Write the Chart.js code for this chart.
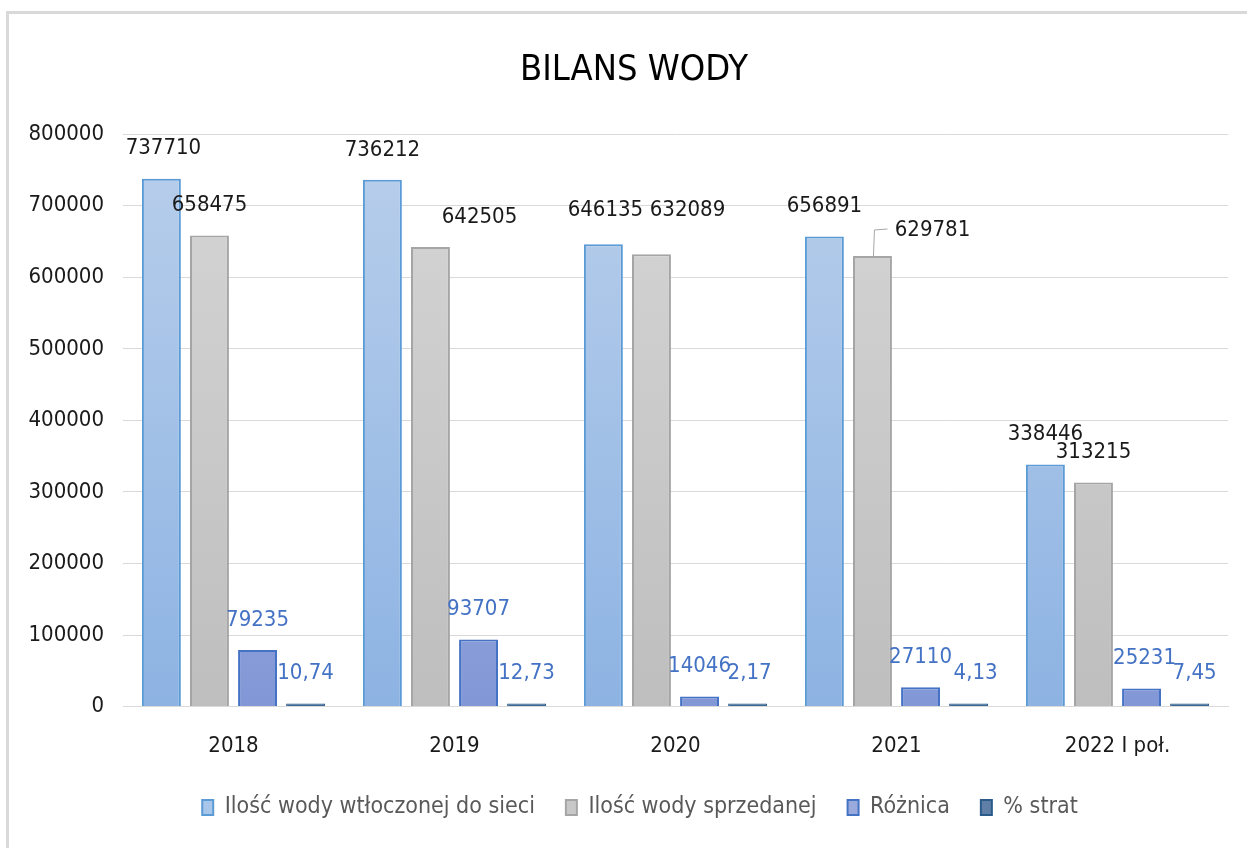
<!DOCTYPE html>
<html>
<head>
<meta charset="utf-8">
<script src="https://cdn.jsdelivr.net/npm/chart.js@4/dist/chart.umd.min.js"></script>
<style>
  html, body { margin: 0; padding: 0; background: #ffffff; }
  #wrap { position: relative; width: 1247px; height: 848px; overflow: hidden; }
  #frameTop { position: absolute; left: 6px; top: 11px; width: 1260px; height: 3px; background: #d9d9d9; }
  #frameLeft { position: absolute; left: 6px; top: 11px; width: 3px; height: 860px; background: #d9d9d9; }
  canvas { position: absolute; left: 0; top: 0; }
</style>
</head>
<body>
<div id="wrap">
  <canvas id="c" width="1247" height="848"></canvas>
  <div id="frameTop"></div>
  <div id="frameLeft"></div>
</div>
<script>
const categories = ['2018', '2019', '2020', '2021', '2022 I poł.'];
const wtloczonej = [737710, 736212, 646135, 656891, 338446];
const sprzedanej = [658475, 642505, 632089, 629781, 313215];
const roznica = [79235, 93707, 14046, 27110, 25231];
const procentStrat = [10.74, 12.73, 2.17, 4.13, 7.45];
const seriesNames = ['Ilość wody wtłoczonej do sieci', 'Ilość wody sprzedanej', 'Różnica', '% strat'];
const yTicks = [0, 100000, 200000, 300000, 400000, 500000, 600000, 700000, 800000];

const FONT = "'Liberation Sans Narrow', 'DejaVu Sans Condensed', 'Liberation Sans', sans-serif";

// label offsets (dx, dy) relative to default position, per dataset/category
const labelOffsets = [
  [[2,0],[0,0],[2,-4],[0,0],[0,0]],
  [[0,0],[49,0],[36,-14],[60,4],[0,0]],
  [[0,0],[0,0],[0,0],[0,0],[3,0]],
  [[0,0],[0,0],[2,0],[7,0],[5,0]]
];
const leaderLines = [[], [3], [], []];

function gradFill(top, bottom) {
  return function(c) {
    const area = c.chart.chartArea;
    if (!area) return bottom;
    const g = c.chart.ctx.createLinearGradient(0, area.top, 0, area.bottom);
    g.addColorStop(0, top);
    g.addColorStop(1, bottom);
    return g;
  };
}

// horizontally re-centre title and legend boxes on the frame (not on the plot)
const boxShiftPlugin = {
  id: 'boxShift',
  afterLayout(chart) {
    if (chart.titleBlock) { chart.titleBlock.left += 20; chart.titleBlock.right += 20; }
    if (chart.legend) { chart.legend.left += 26; chart.legend.right += 26; }
  }
};

const labelPlugin = {
  id: 'barLabels',
  afterDatasetsDraw(chart) {
    const ctx = chart.ctx;
    ctx.save();
    ctx.font = '22px ' + FONT;
    ctx.textAlign = 'center';
    ctx.textBaseline = 'middle';
    chart.data.datasets.forEach((ds, di) => {
      const meta = chart.getDatasetMeta(di);
      ctx.fillStyle = di < 2 ? '#1a1a1a' : '#4472c4';
      meta.data.forEach((bar, i) => {
        const v = ds.data[i];
        const txt = di === 3 ? v.toFixed(2).replace('.', ',') : String(v);
        const off = labelOffsets[di][i];
        const barTop = Math.min(bar.y, bar.base - 3);
        const x = bar.x + off[0];
        const y = barTop - 30 + off[1];
        if (leaderLines[di].indexOf(i) >= 0) {
          ctx.save();
          ctx.strokeStyle = '#a6a6a6';
          ctx.lineWidth = 1;
          ctx.beginPath();
          ctx.moveTo(bar.x + 1, barTop);
          ctx.lineTo(bar.x + 2, y);
          ctx.lineTo(bar.x + 15, y - 1);
          ctx.stroke();
          ctx.restore();
        }
        ctx.fillText(txt, x, y);
      });
    });
    ctx.restore();
  }
};

const chart = new Chart(document.getElementById('c'), {
  type: 'bar',
  data: {
    labels: categories,
    datasets: [
      { label: seriesNames[0], data: wtloczonej, backgroundColor: gradFill('#b9cfeb', '#8db3e3'), borderColor: '#5b9bd5', borderWidth: 2 },
      { label: seriesNames[1], data: sprzedanej, backgroundColor: gradFill('#d6d6d6', '#bebebe'), borderColor: '#a5a5a5', borderWidth: 2 },
      { label: seriesNames[2], data: roznica, backgroundColor: gradFill('#b3bfe6', '#8297d6'), borderColor: '#4472c4', borderWidth: 2 },
      { label: seriesNames[3], data: procentStrat, backgroundColor: '#3a6794', borderColor: '#2a5b8a', borderWidth: 1, minBarLength: 3 }
    ]
  },
  options: {
    responsive: false,
    animation: false,
    devicePixelRatio: 1,
    categoryPercentage: 0.87,
    barPercentage: 0.81,
    layout: { padding: { left: 0, right: 19, top: 49, bottom: 19 } },
    plugins: {
      title: {
        display: true,
        text: 'BILANS WODY',
        color: '#000000',
        font: { family: FONT, size: 36, weight: 'normal' },
        padding: { top: 0, bottom: 42 }
      },
      legend: {
        position: 'bottom',
        labels: {
          color: '#595959',
          font: { family: FONT, size: 23 },
          boxWidth: 11,
          boxHeight: 15,
          padding: 31,
          generateLabels(chart) {
            const cols = [['#a8c5ea', '#5b9bd5'], ['#c8c8c8', '#a5a5a5'], ['#9aaadd', '#4472c4'], ['#5f7fa6', '#2a5b8a']];
            return chart.data.datasets.map((ds, i) => ({
              text: ds.label, fillStyle: cols[i][0], strokeStyle: cols[i][1], lineWidth: 2,
              fontColor: '#595959', datasetIndex: i, hidden: false
            }));
          }
        }
      },
      tooltip: { enabled: false }
    },
    scales: {
      x: {
        grid: { display: false, drawTicks: false },
        border: { display: true, color: '#d9d9d9', width: 1 },
        ticks: { color: '#1a1a1a', font: { family: FONT, size: 22 }, padding: 26 },
        afterFit(scale) { scale.height = scale.height - 20; }
      },
      y: {
        min: 0,
        max: 800000,
        afterBuildTicks(scale) { scale.ticks = yTicks.map(v => ({ value: v })); },
        grid: { color: '#d9d9d9', drawTicks: false, lineWidth: 1 },
        border: { display: false },
        ticks: { color: '#1a1a1a', font: { family: FONT, size: 22 }, padding: 19, callback: (v) => String(v) },
        afterFit(scale) { scale.width = 123; }
      }
    }
  },
  plugins: [boxShiftPlugin, labelPlugin]
});
</script>
</body>
</html>
